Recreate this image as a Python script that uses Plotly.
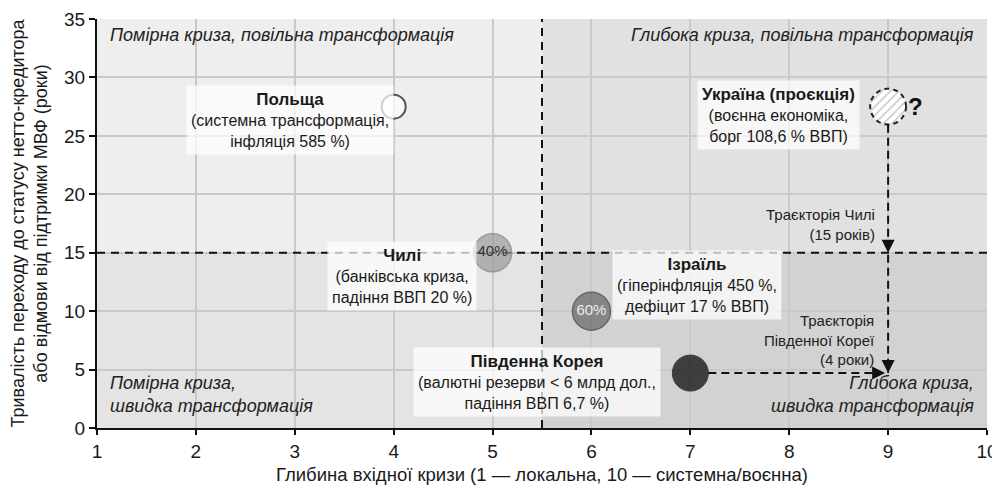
import numpy as np
import plotly.graph_objects as go

# ---------------- data ----------------
countries = ["Польща", "Чилі", "Ізраїль", "Південна Корея", "Україна (проєкція)"]
depth = [4, 5, 6, 7, 9]              # глибина вхідної кризи
duration = [27.5, 15, 10, 4.7, 27.5]  # тривалість переходу (роки)
bubble_text = ["", "40%", "60%", "", ""]
details = [
    "(системна трансформація,<br>інфляція 585 %)",
    "(банківська криза,<br>падіння ВВП 20 %)",
    "(гіперінфляція 450 %,<br>дефіцит 17 % ВВП)",
    "(валютні резерви < 6 млрд дол.,<br>падіння ВВП 6,7 %)",
    "(воєнна економіка,<br>борг 108,6 % ВВП)",
]
x_split = 5.5
y_split = 15
x_ticks = list(range(1, 11))
y_ticks = [0, 5, 10, 15, 20, 25, 30, 35]
quadrant_titles = [
    "Помірна криза, повільна трансформація",
    "Глибока криза, повільна трансформація",
    "Помірна криза,<br>швидка трансформація",
    "Глибока криза,<br>швидка трансформація",
]
chile_path_label = "Траєкторія Чилі<br>(15 років)"
korea_path_label = "Траєкторія<br>Південної Кореї<br>(4 роки)"

FONT = "Liberation Sans, Arial, sans-serif"

# the page body adds an 8px offset; margins compensate for it
W, H = 992, 478
ML, MR, MT, MB = 89, 13, 11, 58
XR = (1, 10)
YR = (0, 35)
px_x = (W - ML - MR) / (XR[1] - XR[0])
px_y = (H - MT - MB) / (YR[1] - YR[0])

fig = go.Figure()

# Ukraine hatched circle (dashed outline), radius given in pixels
r_px = 18
t = np.linspace(0, 2 * np.pi, 73)
ux, uy = depth[4], duration[4]
fig.add_trace(go.Scatter(
    x=ux + (r_px / px_x) * np.cos(t), y=uy + (r_px / px_y) * np.sin(t),
    mode="lines", fill="toself",
    fillpattern=dict(shape="/", fgcolor="#8a8a8a", bgcolor="#ffffff", size=6, solidity=0.25),
    line=dict(color="#222222", width=2, dash="5px,4px"),
    hoverinfo="skip", showlegend=False))

# Trajectory lines (dashed)
uy_bottom = uy - r_px / px_y
fig.add_trace(go.Scatter(
    x=[ux, ux], y=[uy_bottom, duration[3]],
    mode="lines", line=dict(color="#111111", width=2, dash="8px,5px"),
    hoverinfo="skip", showlegend=False))
fig.add_trace(go.Scatter(
    x=[depth[3] + 18 / px_x, ux - 0.06], y=[duration[3], duration[3]],
    mode="lines", line=dict(color="#111111", width=2, dash="8px,5px"),
    hoverinfo="skip", showlegend=False))

# Bubbles
fig.add_trace(go.Scatter(
    x=depth[:4], y=duration[:4], mode="markers+text",
    text=bubble_text[:4], textposition="middle center",
    textfont=dict(family=FONT, size=15, color=["#000", "#333", "#eeeeee", "#fff"]),
    marker=dict(size=[24, 38, 38, 36],
                color=["#ffffff", "#9b9b9b", "#666666", "#000000"],
                line=dict(color=["#111111", "#7a7a7a", "#3a3a3a", "#000000"], width=[2, 1.5, 1.5, 1])),
    hoverinfo="skip", showlegend=False))

shapes = [
    # quadrant shading
    dict(type="rect", xref="x", yref="y", x0=x_split, x1=XR[1], y0=y_split, y1=YR[1],
         fillcolor="#e1e1e1", line_width=0, layer="below"),
    dict(type="rect", xref="x", yref="y", x0=XR[0], x1=x_split, y0=YR[0], y1=y_split,
         fillcolor="#e4e4e4", line_width=0, layer="below"),
    dict(type="rect", xref="x", yref="y", x0=x_split, x1=XR[1], y0=YR[0], y1=y_split,
         fillcolor="#d2d2d2", line_width=0, layer="below"),
    # split lines
    dict(type="line", xref="x", yref="y", x0=x_split, x1=x_split, y0=YR[0], y1=YR[1],
         line=dict(color="#111111", width=2, dash="8px,6px"), layer="between"),
    dict(type="line", xref="x", yref="y", x0=XR[0], x1=XR[1], y0=y_split, y1=y_split,
         line=dict(color="#111111", width=2, dash="8px,6px"), layer="between"),
]

ann = []
# country labels
label_pos = [
    (2.95, 26.35), (4.08, 13.0), (7.07, 12.25), (5.45, 3.93), (7.89, 26.75)
]
for name, det, (lx, ly) in zip(countries, details, label_pos):
    ann.append(dict(x=lx, y=ly, xref="x", yref="y", showarrow=False,
                    text=f"<b><span style='font-size:17px'>{name}</span></b><br>{det}", align="center",
                    font=dict(family=FONT, size=16, color="#1a1a1a"),
                    bgcolor="rgba(255,255,255,0.72)", borderpad=4,
                    xanchor="center", yanchor="middle"))
ann.append(dict(x=ux + 0.28, y=uy, xref="x", yref="y", showarrow=False,
                text="<b>?</b>", font=dict(family=FONT, size=24, color="#111"),
                xanchor="center", yanchor="middle"))

# quadrant titles
qt_font = dict(family=FONT, size=18, color="#222222")
ann += [
    dict(x=0.012, y=0.99, xref="paper", yref="paper", text=f"<i>{quadrant_titles[0]}</i>",
         showarrow=False, xanchor="left", yanchor="top", font=qt_font),
    dict(x=0.988, y=0.99, xref="paper", yref="paper", text=f"<i>{quadrant_titles[1]}</i>",
         showarrow=False, xanchor="right", yanchor="top", font=qt_font),
    dict(x=0.012, y=0.025, xref="paper", yref="paper", text=f"<i>{quadrant_titles[2]}</i>",
         showarrow=False, xanchor="left", yanchor="bottom", align="left", font=qt_font),
    dict(x=0.988, y=0.025, xref="paper", yref="paper", text=f"<i>{quadrant_titles[3]}</i>",
         showarrow=False, xanchor="right", yanchor="bottom", align="right", font=qt_font),
]

# trajectory labels
ann += [
    dict(x=ux - 0.11, y=17.4, xref="x", yref="y", text=chile_path_label, showarrow=False,
         xanchor="right", yanchor="middle", align="right",
         font=dict(family=FONT, size=15, color="#222")),
    dict(x=ux - 0.11, y=7.5, xref="x", yref="y", text=korea_path_label, showarrow=False,
         xanchor="right", yanchor="middle", align="right",
         font=dict(family=FONT, size=15, color="#222")),
]
# arrowheads
for (tx, ty, fx, fy) in [(ux, y_split, ux, y_split + 1.0),
                         (ux, duration[3], ux, duration[3] + 1.0),
                         (ux - 0.03, duration[3], ux - 0.13, duration[3])]:
    ann.append(dict(x=tx, y=ty, ax=fx, ay=fy, xref="x", yref="y", axref="x", ayref="y",
                    text="", showarrow=True, arrowhead=2, arrowsize=1.3, arrowwidth=2,
                    arrowcolor="#111111", standoff=0))

fig.update_layout(
    width=W, height=H,
    margin=dict(l=ML, r=MR, t=MT, b=MB, autoexpand=False),
    paper_bgcolor="#ffffff", plot_bgcolor="#eeeeee",
    font=dict(family=FONT, color="#1a1a1a"),
    shapes=shapes, annotations=ann, showlegend=False,
    xaxis=dict(range=list(XR), tickvals=x_ticks, showgrid=True, gridcolor="#c9c9c9", gridwidth=1.5,
               zeroline=False, showline=True, linecolor="#111", linewidth=2,
               ticks="outside", ticklen=5, tickwidth=2, tickcolor="#111", automargin=False,
               ticklabeloverflow="allow",
               tickfont=dict(size=19, family=FONT, color="#1a1a1a"),
               title=dict(text="Глибина вхідної кризи (1 — локальна, 10 — системна/воєнна)",
                          font=dict(size=18.5, family=FONT, color="#1a1a1a"), standoff=7)),
    yaxis=dict(range=list(YR), tickvals=y_ticks, showgrid=True, gridcolor="#c9c9c9", gridwidth=1.5,
               zeroline=False, showline=True, linecolor="#111", linewidth=2,
               ticks="outside", ticklen=6, tickwidth=2, tickcolor="#111", automargin=False,
               ticklabeloverflow="allow",
               tickfont=dict(size=19, family=FONT, color="#1a1a1a"),
               title=dict(text="Тривалість переходу до статусу нетто-кредитора<br>або відмови від підтримки МВФ (роки)",
                          font=dict(size=18, family=FONT, color="#1a1a1a"), standoff=12)),
)

fig.write_html("out.html")
